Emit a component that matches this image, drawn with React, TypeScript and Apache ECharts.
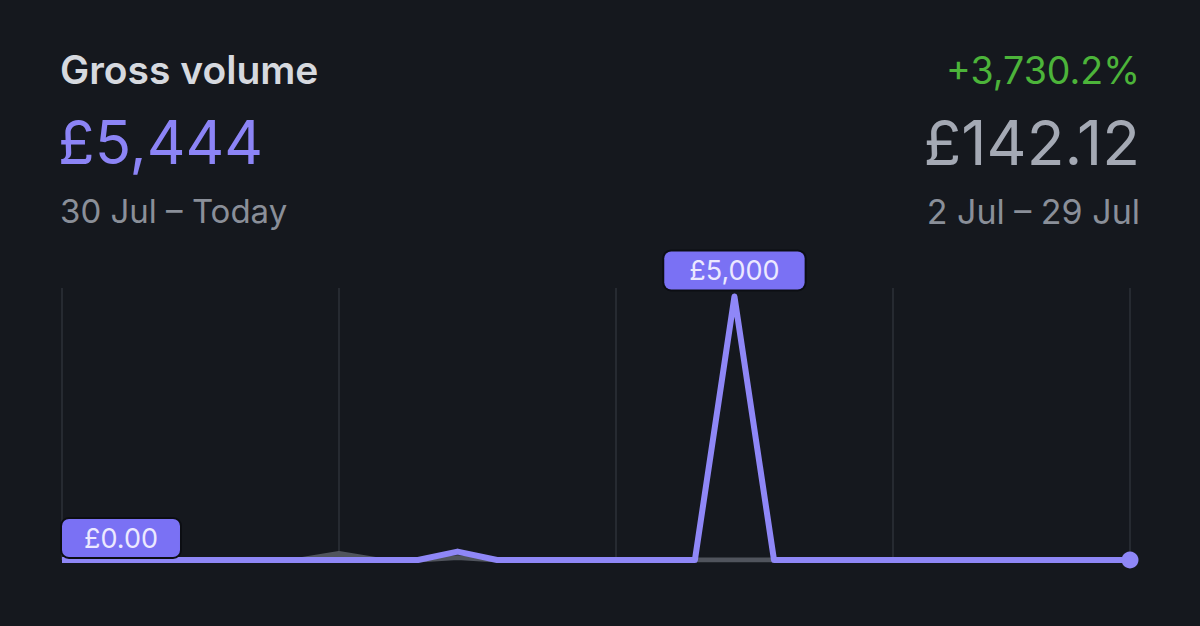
import React, { useEffect, useRef } from "react";
import * as echarts from "echarts";

const days: string[] = [
  "30 Jul", "31 Jul", "1 Aug", "2 Aug", "3 Aug", "4 Aug", "5 Aug",
  "6 Aug", "7 Aug", "8 Aug", "9 Aug", "10 Aug", "11 Aug", "12 Aug",
  "13 Aug", "14 Aug", "15 Aug", "16 Aug", "17 Aug", "18 Aug", "19 Aug",
  "20 Aug", "21 Aug", "22 Aug", "23 Aug", "24 Aug", "25 Aug", "26 Aug",
];
const currentValues: number[] = [
  0, 0, 0, 0, 0, 0, 0, 0, 0, 0, 160, 0, 0, 0,
  0, 0, 0, 5000, 0, 0, 0, 0, 0, 0, 0, 0, 0, 0,
];
const previousValues: number[] = [
  6, 6, 0, 0, 0, 0, 0, 125, 0, 0, 45, 0, 0, 0,
  0, 0, 0, 0, 0, 0, 0, 0, 0, 0, 0, 0, 0, 0,
];
const title = "Gross volume";
const currentTotal = "£5,444";
const currentRange = "30 Jul – Today";
const changeText = "+3,730.2%";
const previousTotal = "£142.12";
const previousRange = "2 Jul – 29 Jul";
const peakLabel = "£5,000";
const startLabel = "£0.00";

const FONT = "Inter, 'Noto Sans', sans-serif";
const PURPLE = "#8f87f7";
const BOX = "#7a71f4";

export default function App() {
  const ref = useRef<HTMLDivElement>(null);
  useEffect(() => {
    document.body.style.margin = "0";
    const chart = echarts.init(ref.current!, null, { renderer: "svg" });
    const peakIdx = currentValues.indexOf(Math.max(...currentValues));
    const lastIdx = currentValues.length - 1;
    const labelBase = {
      show: true,
      position: "top",
      color: "#ece9ff",
      fontFamily: FONT,
      fontSize: 27,
      lineHeight: 26,
      backgroundColor: BOX,
      borderRadius: 7,
      borderColor: "#0c0e13",
      borderWidth: 2,
    };
    const curData = currentValues.map((v, i) => {
      if (i === peakIdx) {
        return {
          value: v,
          label: { ...labelBase, formatter: peakLabel, distance: 7, padding: [6, 25, 6, 25] },
        };
      }
      if (i === 0) {
        return {
          value: v,
          label: { ...labelBase, formatter: startLabel, align: "left", distance: 3, padding: [6, 22, 6, 22] },
        };
      }
      if (i === lastIdx) {
        return { value: v, symbolSize: 17 };
      }
      return v;
    });
    const txt = (text: string, x: number, y: number, align: string, fill: string, font: string) => ({
      type: "text",
      x,
      y,
      style: { text, fill, font, textAlign: align, textVerticalAlign: "middle" },
    });
    chart.setOption({
      animation: false,
      backgroundColor: "#15181e",
      grid: { left: 62, right: 70, top: 288, bottom: 66 },
      xAxis: {
        type: "category",
        data: days,
        boundaryGap: false,
        axisLine: { show: false },
        axisTick: { show: false },
        axisLabel: { show: false },
        splitLine: {
          show: true,
          interval: (i: number) => i % 7 === 0 || i === days.length - 1,
          lineStyle: { color: "#2d3139", width: 1.5 },
        },
      },
      yAxis: {
        type: "value",
        min: 0,
        max: 5160,
        show: false,
        splitLine: { show: false },
      },
      graphic: [
        txt(title, 60, 69, "left", "#d6d9df", `600 39px ${FONT}`),
        txt(currentTotal, 58, 142, "left", "#8c84f6", `400 60px ${FONT}`),
        txt(currentRange, 60, 211, "left", "#8a8f99", `400 33px ${FONT}`),
        txt(changeText, 1140, 70, "right", "#4cb43a", `400 37.5px ${FONT}`),
        txt(previousTotal, 1140, 142, "right", "#a4a9b4", `400 62px ${FONT}`),
        txt(previousRange, 1140, 211, "right", "#8a8f99", `400 34px ${FONT}`),
      ],
      series: [
        {
          name: "Previous period",
          type: "line",
          data: previousValues,
          symbol: "none",
          z: 1,
          lineStyle: { color: "#50545d", width: 5 },
          areaStyle: { color: "#50545d", opacity: 1 },
        },
        {
          name: "Current period",
          type: "line",
          data: curData,
          symbol: "circle",
          symbolSize: 0,
          showSymbol: true,
          z: 3,
          itemStyle: { color: PURPLE },
          lineStyle: { color: PURPLE, width: 6, join: "round" },
        },
      ],
    });
    return () => chart.dispose();
  }, []);
  return <div ref={ref} style={{ position: "fixed", left: 0, top: 0, width: 1200, height: 626 }} />;
}
